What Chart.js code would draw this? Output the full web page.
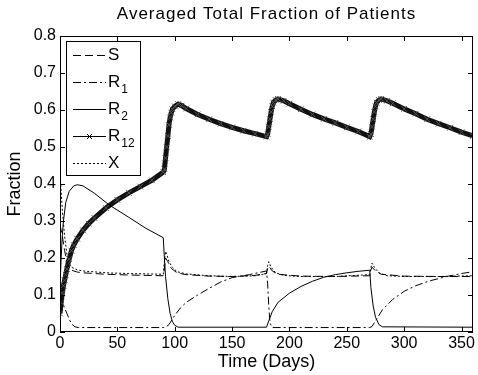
<!DOCTYPE html>
<html><head><meta charset="utf-8">
<script src="https://cdn.jsdelivr.net/npm/chart.js@4.4.1/dist/chart.umd.min.js"></script>
<style>html,body{margin:0;background:#fff}#wrap{width:478px;height:375px}</style>
</head><body><div id="wrap"><canvas id="c"></canvas></div>
<script>
/* ---- data ---- */
const tS=[0,2,4,6,8,10,15,20,40,60,90,91,92,94,97,102,110,130,150,170,180,181,182,185,190,210,240,270,271,272,275,280,300,330,360];
const vS=[0.29,0.26,0.22,0.19,0.175,0.167,0.162,0.16,0.156,0.154,0.152,0.17,0.2,0.19,0.172,0.16,0.155,0.151,0.15,0.153,0.158,0.172,0.178,0.165,0.156,0.151,0.15,0.152,0.168,0.175,0.165,0.156,0.151,0.15,0.15];

const tR1=[0,2,4,6,8,10,13,16,90,92,95,100,105,110,120,130,140,150,165,180,181,182,183,185,270,272,276,281,290,300,310,322,337,350,360];
const vR1=[0.1,0.08,0.065,0.05,0.035,0.022,0.014,0.012,0.012,0.013,0.02,0.045,0.065,0.08,0.1,0.118,0.135,0.147,0.155,0.165,0.13,0.07,0.025,0.012,0.012,0.015,0.035,0.06,0.088,0.11,0.125,0.138,0.15,0.158,0.163];

const tR2=[0,1,2,3,5,8,12,15,20,30,43,60,75,90,91,92,94,96,98,100,103,180,182,185,190,200,210,220,230,240,250,260,270,271,273,275,278,281,360];
const vR2=[0.12,0.2,0.26,0.3,0.35,0.38,0.395,0.398,0.395,0.375,0.343,0.31,0.28,0.255,0.2,0.15,0.09,0.05,0.028,0.018,0.013,0.013,0.03,0.055,0.08,0.105,0.123,0.137,0.148,0.155,0.16,0.164,0.167,0.12,0.07,0.04,0.02,0.014,0.013];

const tR12=[0,1,2,3,4,5,6,7,8,10,12,15,20,25,30,40,50,60,70,80,90,91,92,93,94,95,96,97,98,100,103,106,110,120,130,140,150,160,170,180,181,182,183,184,185,186,188,190,195,200,210,220,230,240,250,260,270,271,272,273,274,275,276,278,280,285,290,300,310,320,330,340,350,360];
const vR12=[0.05,0.08,0.105,0.125,0.14,0.155,0.17,0.185,0.197,0.22,0.235,0.252,0.275,0.293,0.308,0.335,0.357,0.376,0.393,0.41,0.432,0.44,0.47,0.5,0.53,0.56,0.58,0.593,0.602,0.61,0.616,0.612,0.604,0.588,0.575,0.563,0.553,0.544,0.536,0.528,0.535,0.555,0.575,0.595,0.61,0.62,0.627,0.63,0.625,0.617,0.602,0.588,0.576,0.565,0.553,0.542,0.528,0.535,0.555,0.575,0.595,0.61,0.62,0.627,0.63,0.625,0.618,0.603,0.59,0.575,0.563,0.552,0.54,0.53];

const tX=[0,1,2,4,6,8,10,15,20,40,60,90,91,92,93,95,98,102,110,130,150,170,180,181,182,184,188,195,210,240,270,271,272,274,278,285,300,330,360];
const vX=[0.43,0.38,0.33,0.26,0.21,0.185,0.175,0.168,0.165,0.16,0.158,0.156,0.19,0.218,0.21,0.19,0.175,0.163,0.157,0.152,0.15,0.152,0.158,0.18,0.19,0.175,0.16,0.153,0.15,0.15,0.155,0.175,0.186,0.175,0.16,0.152,0.15,0.15,0.152];

const xTicks=[0,50,100,150,200,250,300,350];
const yTicks=[0,0.1,0.2,0.3,0.4,0.5,0.6,0.7,0.8];
const legendRows=[['S',''],['R','1'],['R','2'],['R','12'],['X','']];
const dashes=[[8,4],[8,3,2,3],[],[],[2,2]];
const TITLE='Averaged Total Fraction of Patients';

const pts=(t,v)=>t.map((x,i)=>({x,y:v[i]}));
const FONT='"Liberation Sans", Arial, sans-serif';

/* ---- title, frame, inward ticks and legend ---- */
const boxPlugin={id:'box',afterDraw(ch){
  const{ctx,chartArea:a,scales:{x,y}}=ch;
  ctx.save();
  // title centred over the plot area (MATLAB style)
  ctx.fillStyle='#000';ctx.font='17px '+FONT;ctx.textAlign='center';ctx.textBaseline='alphabetic';
  ctx.letterSpacing='1px';
  ctx.fillText(TITLE,(a.left+a.right)/2,19);
  ctx.letterSpacing='0px';
  ctx.strokeStyle='#000';ctx.lineWidth=1;ctx.setLineDash([]);
  ctx.strokeRect(a.left+.5,a.top+.5,a.right-a.left-1,a.bottom-a.top-1);
  ctx.beginPath();
  xTicks.forEach(v=>{
    const px=Math.round(x.getPixelForValue(v))+.5;
    ctx.moveTo(px,a.bottom);ctx.lineTo(px,a.bottom-5);
    ctx.moveTo(px,a.top);ctx.lineTo(px,a.top+5);
  });
  yTicks.forEach(v=>{
    const py=Math.round(y.getPixelForValue(v))+.5;
    ctx.moveTo(a.left,py);ctx.lineTo(a.left+5,py);
    ctx.moveTo(a.right,py);ctx.lineTo(a.right-5,py);
  });
  ctx.stroke();
  // legend box
  const bx=66.5,by=41.5,bw=74,bh=134;
  ctx.fillStyle='#fff';ctx.fillRect(bx,by,bw,bh);ctx.strokeRect(bx,by,bw,bh);
  legendRows.forEach((r,i)=>{
    const ly=55+i*27;
    ctx.setLineDash(dashes[i]);ctx.lineWidth=1;ctx.strokeStyle='#000';
    ctx.beginPath();ctx.moveTo(73,ly+.5);ctx.lineTo(106,ly+.5);ctx.stroke();
    ctx.setLineDash([]);
    if(i===3){
      ctx.beginPath();ctx.moveTo(87,ly-2);ctx.lineTo(92,ly+3);ctx.moveTo(87,ly+3);ctx.lineTo(92,ly-2);ctx.stroke();
    }
    ctx.fillStyle='#000';ctx.textBaseline='middle';ctx.textAlign='left';
    ctx.font='17px '+FONT;ctx.fillText(r[0],108,ly);
    if(r[1]){
      const w=ctx.measureText(r[0]).width;
      ctx.font='12px '+FONT;ctx.fillText(r[1],108+w+1,ly+8);
    }
  });
  ctx.restore();
}};

const line=(t,v,i,extra)=>Object.assign({data:pts(t,v),borderColor:'#000',borderWidth:1,borderDash:dashes[i],pointRadius:0,tension:0},extra||{});

new Chart(document.getElementById('c'),{
  type:'line',
  data:{datasets:[
    line(tS,vS,0),
    line(tR1,vR1,1),
    line(tR2,vR2,2),
    line(tR12,vR12,3,{borderColor:'#111',borderWidth:5,pointRadius:4,pointStyle:'crossRot',pointBorderColor:'#555',pointBorderWidth:1}),
    line(tX,vX,4)
  ]},
  options:{
    responsive:true,maintainAspectRatio:false,animation:false,
    layout:{padding:{left:0,right:1,top:36,bottom:0}},
    plugins:{legend:{display:false},tooltip:{enabled:false},title:{display:false}},
    scales:{
      x:{type:'linear',min:0,max:360,
        afterFit:s=>{s.height=43;},
        afterBuildTicks:s=>{s.ticks=xTicks.map(v=>({value:v}));},
        grid:{display:false,drawTicks:false},border:{display:false},
        ticks:{color:'#000',font:{family:FONT,size:16},padding:2,maxRotation:0},
        title:{display:true,text:'Time (Days)',color:'#000',font:{family:FONT,size:18},padding:{top:0,bottom:2}}
      },
      y:{min:0,max:0.8,
        afterFit:s=>{s.width=60;},
        afterBuildTicks:s=>{s.ticks=yTicks.map(v=>({value:v}));},
        grid:{display:false,drawTicks:false},border:{display:false},
        ticks:{color:'#000',font:{family:FONT,size:16},padding:4,callback:v=>String(+v.toFixed(1))},
        title:{display:true,text:'Fraction',color:'#000',font:{family:FONT,size:18},padding:{top:4,bottom:0}}
      }
    }
  },
  plugins:[boxPlugin]
});
</script>
</body></html>
